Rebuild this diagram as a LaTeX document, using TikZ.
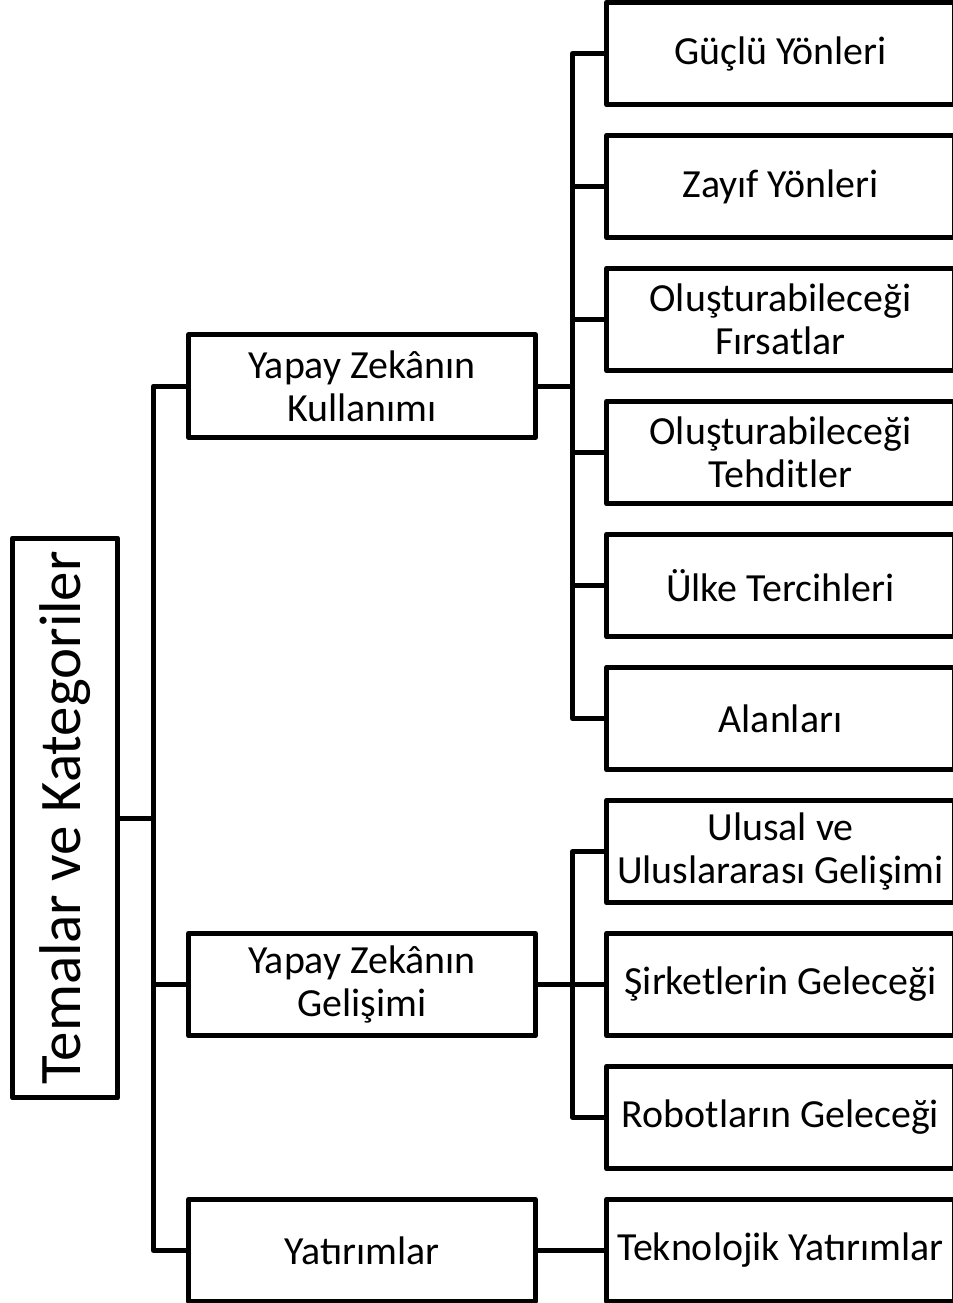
\documentclass[tikz,border=0pt]{standalone}
\usepackage{fontspec}
\setmainfont{Carlito}
\usetikzlibrary{positioning}

\begin{document}
\begin{tikzpicture}[x=0.02cm,y=-0.02cm,
    box/.style={draw=black,fill=white,line width=0.1cm,line join=round,
      minimum width=6.94cm,minimum height=2.05cm,inner sep=0pt,align=center,
      font=\fontsize{22.7}{24.5}\selectfont},
    leaf/.style={box,minimum width=6.96cm},
    link/.style={line width=0.1cm,line join=round}]
  \useasboundingbox (0,0) rectangle (953,1303);
  \def\lx{780.5}
  \def\mx{362}
  % Root
  \node[box,rotate=90,minimum width=11.2cm,minimum height=2.1cm,
    font=\fontsize{33.5}{36}\selectfont] (root) at (65,818) {Temalar ve Kategoriler};
  % Themes
  \node[box] (kullanim) at (\mx,386) {Yapay Zekânın\\Kullanımı};
  \node[box] (gelisim) at (\mx,984.5) {Yapay Zekânın\\Gelişimi};
  \node[box] (yatirim) at (\mx,1250.5) {Yatırımlar};
  % Categories
  \node[leaf] (guclu) at (\lx,53.5) {Güçlü Yönleri};
  \node[leaf] (zayif) at (\lx,186.5) {Zayıf Yönleri};
  \node[leaf] (firsat) at (\lx,319.5) {Oluşturabileceği\\Fırsatlar};
  \node[leaf] (tehdit) at (\lx,452.5) {Oluşturabileceği\\Tehditler};
  \node[leaf] (ulke) at (\lx,585.5) {Ülke Tercihleri};
  \node[leaf] (alan) at (\lx,718.5) {Alanları};
  \node[leaf] (ulusal) at (\lx,851.5) {Ulusal ve\\Uluslararası Gelişimi};
  \node[leaf] (sirket) at (\lx,984.5) {Şirketlerin Geleceği};
  \node[leaf] (robot) at (\lx,1117.5) {Robotların Geleceği};
  \node[leaf] (teknoloji) at (\lx,1250.5) {Teknolojik Yatırımlar};
  % Trunks
  \coordinate (ltrunk) at (153.5,0);
  \coordinate (rtrunk) at (572.5,0);
  % Root to themes
  \draw[link] (root.south) -- (root.south -| ltrunk);
  \draw[link] (kullanim.west) -- (kullanim.west -| ltrunk) -- (yatirim.west -| ltrunk) -- (yatirim.west);
  \draw[link] (gelisim.west) -- (gelisim.west -| ltrunk);
  % Themes to categories
  \draw[link] (kullanim.east) -- (kullanim.east -| rtrunk);
  \draw[link] (guclu.west) -- (guclu.west -| rtrunk) -- (alan.west -| rtrunk) -- (alan.west);
  \draw[link] (zayif.west) -- (zayif.west -| rtrunk);
  \draw[link] (firsat.west) -- (firsat.west -| rtrunk);
  \draw[link] (tehdit.west) -- (tehdit.west -| rtrunk);
  \draw[link] (ulke.west) -- (ulke.west -| rtrunk);
  \draw[link] (gelisim.east) -- (gelisim.east -| rtrunk);
  \draw[link] (ulusal.west) -- (ulusal.west -| rtrunk) -- (robot.west -| rtrunk) -- (robot.west);
  \draw[link] (sirket.west) -- (sirket.west -| rtrunk);
  \draw[link] (yatirim.east) -- (teknoloji.west);
\end{tikzpicture}
\end{document}
